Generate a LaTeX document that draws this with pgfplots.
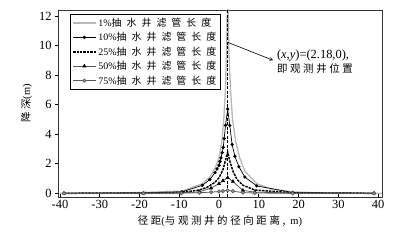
\documentclass[border=0pt]{standalone}
\usepackage{fontspec}
\setmainfont{Liberation Serif}
\newfontfamily\cjk[LetterSpace=25]{Noto Sans CJK SC}
\newfontfamily\cjkL[LetterSpace=50]{Noto Sans CJK SC}
\usepackage{pgfplots}
\pgfplotsset{compat=1.18}
\definecolor{lg}{gray}{0.72}
\definecolor{dg}{gray}{0.35}
\begin{document}
\begin{tikzpicture}
\begin{axis}[
  width=324bp, height=187bp, scale only axis,
  xmin=-40.5, xmax=41, ymin=-0.25, ymax=12.4,
  xtick={-40,-30,...,40}, ytick={0,2,...,12},
  xtick pos=bottom, ytick pos=left,
  xtick align=inside, ytick align=outside,
  tick style={black, line width=0.6pt}, major tick length=3bp,
  axis line style={line width=0.7pt, black!80},
  ticklabel style={font=\fontsize{12.5}{13}\selectfont},
  /pgf/number format/assume math mode=true,
  xlabel={\fontsize{10.5}{12}\selectfont{\cjk 径距}(\cjk 与观测井的径向距离, \rmfamily m)},
  ylabel={\fontsize{10.5}{12}\selectfont{\cjk 降深}(m)},
  legend style={at={(0.037,0.98)}, anchor=north west, draw=black, line width=0.6pt,
    font=\fontsize{10}{10}\selectfont, row sep=0.5bp, inner sep=2bp},
  legend cell align=left,
  legend image code/.code={\draw[mark repeat=2,mark phase=2,#1] plot coordinates {(0cm,0cm) (0.4cm,0cm) (0.8cm,0cm)};},
]
\addplot[lg, line width=1.3pt] coordinates {
(-40,0) (-20,0.05) (-9.3,0.15) (-4.2,0.65) (-2.3,1.1) (-1,1.7) (0,2.4) (0.7,3.5)
(1.2,5) (1.6,7) (1.9,9.5) (2.05,12) (2.18,15) (2.3,12) (2.5,9.5) (2.9,7) (3.4,5)
(4.2,3.5) (5.2,2.4) (6.5,1.5) (9.5,0.65) (13,0.3) (18.5,0.1) (25,0.03) (41,0)};
\addlegendentry{1\%{\cjkL 抽水井滤管长度}}
\addplot[black, line width=0.7pt, mark=*, mark size=1.3pt] coordinates {
(-39,0) (-19,0.02) (-9.3,0.1) (-4.2,0.54) (-2.3,0.93) (-1,1.4) (-0.5,1.65) (0,1.9)
(0.25,2.15) (0.5,2.4) (0.8,2.75) (1.06,3.1) (1.3,3.7) (1.64,4.6) (2.18,5.7) (2.7,4.6)
(3.3,3.3) (4,2.5) (5,1.8) (6.5,1.1) (9.5,0.5) (18.5,0.05) (39,0)};
\addlegendentry{10\%{\cjkL 抽水井滤管长度}}
\addplot[black, line width=1.5pt, dash pattern=on 2.5pt off 1pt] coordinates {
(-39,0) (-19,0.02) (-9.5,0.06) (-5,0.22) (-3,0.4) (-1,0.75) (0,1.05) (1,1.6)
(1.7,2.3) (2.18,2.8) (2.7,2.2) (3.5,1.5) (4.5,0.95) (6,0.55) (9,0.22) (18.5,0.03) (39,0)};
\addlegendentry{25\%{\cjkL 抽水井滤管长度}}
\addplot[dg, line width=0.8pt, mark=triangle*, mark size=1.6pt, mark options={black}] coordinates {
(-39,0) (-19,0.01) (-9.5,0.03) (-4.9,0.1) (-2,0.35) (0,0.65) (1,0.85) (2.18,1.06)
(3.5,0.8) (6,0.2) (9,0.08) (18.5,0.02) (39,0)};
\addlegendentry{50\%{\cjkL 抽水井滤管长度}}
\addplot[dg, line width=0.8pt, mark=*, mark size=1.6pt, mark options={fill=lg, draw=dg}] coordinates {
(-39,0) (-19,0) (-9.5,0.01) (-4.9,0.04) (-2,0.08) (0,0.12) (1,0.15) (2.18,0.2)
(3.5,0.14) (6,0.05) (9,0.02) (18.5,0) (39,0)};
\addlegendentry{75\%{\cjkL 抽水井滤管长度}}
\addplot[black, line width=1.2pt, dash pattern=on 3pt off 1.5pt, forget plot] coordinates {
(2.18,-0.25) (2.18,12.4)};
\draw[-stealth, line width=0.6pt] (axis cs:2.3,10.2) -- (axis cs:13.6,9.0);
\node[anchor=west, align=left, font=\fontsize{12.5}{14}\selectfont, inner sep=1bp]
  at (axis cs:14.3,8.9) {(\textit{x},\textit{y})=(2.18,0),\\{\fontsize{10.5}{12}\selectfont\cjk 即观测井位置}};
\end{axis}
\path ([xshift=-58bp,yshift=-50bp]current axis.south west) rectangle ([xshift=15bp,yshift=10bp]current axis.north east);
\end{tikzpicture}
\end{document}
